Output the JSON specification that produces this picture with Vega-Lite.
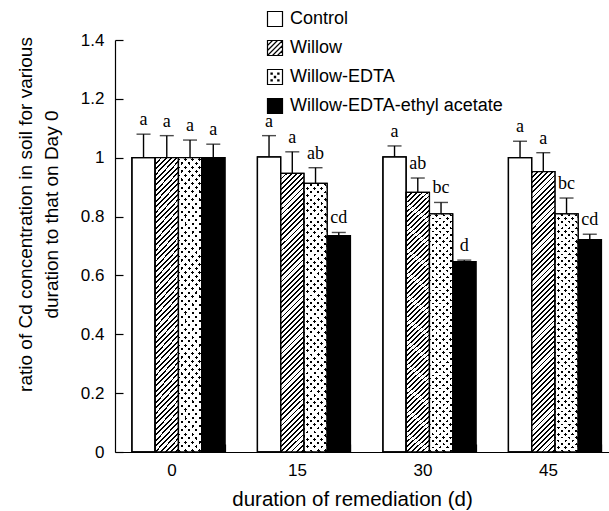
{
"$schema": "https://vega.github.io/schema/vega-lite/v6.json",
"autosize": "none",
"width": 494,
"height": 412,
"padding": {"left": 115, "top": 40, "right": 0, "bottom": 59},
"background": "white",
"config": {"view": {"stroke": null}, "font": "Liberation Sans"},
"data": {"values": [
{"day": "0", "treatment": "Control", "value": 1.0, "upper": 1.08, "letter": "a"},
{"day": "0", "treatment": "Willow", "value": 1.0, "upper": 1.075, "letter": "a"},
{"day": "0", "treatment": "Willow-EDTA", "value": 1.0, "upper": 1.06, "letter": "a"},
{"day": "0", "treatment": "Willow-EDTA-ethyl acetate", "value": 1.0, "upper": 1.046, "letter": "a"},
{"day": "15", "treatment": "Control", "value": 1.003, "upper": 1.075, "letter": "a"},
{"day": "15", "treatment": "Willow", "value": 0.947, "upper": 1.02, "letter": "a"},
{"day": "15", "treatment": "Willow-EDTA", "value": 0.913, "upper": 0.966, "letter": "ab"},
{"day": "15", "treatment": "Willow-EDTA-ethyl acetate", "value": 0.735, "upper": 0.746, "letter": "cd"},
{"day": "30", "treatment": "Control", "value": 1.003, "upper": 1.04, "letter": "a"},
{"day": "30", "treatment": "Willow", "value": 0.882, "upper": 0.931, "letter": "ab"},
{"day": "30", "treatment": "Willow-EDTA", "value": 0.809, "upper": 0.848, "letter": "bc"},
{"day": "30", "treatment": "Willow-EDTA-ethyl acetate", "value": 0.647, "upper": 0.652, "letter": "d"},
{"day": "45", "treatment": "Control", "value": 1.0, "upper": 1.056, "letter": "a"},
{"day": "45", "treatment": "Willow", "value": 0.953, "upper": 1.017, "letter": "a"},
{"day": "45", "treatment": "Willow-EDTA", "value": 0.809, "upper": 0.863, "letter": "bc"},
{"day": "45", "treatment": "Willow-EDTA-ethyl acetate", "value": 0.722, "upper": 0.74, "letter": "cd"}
]},
"encoding": {
"x": {"field": "day", "type": "nominal",
 "scale": {"domain": ["0", "15", "30", "45"], "paddingInner": 0.259, "paddingOuter": 0.0976, "align": 0.69},
 "axis": {"title": "duration of remediation (d)", "labelAngle": 0, "tickBand": "extent", "tickSize": -8, "labelPadding": 18, "labelOffset": -7, "labelFontSize": 17, "labelColor": "black", "domainColor": "black", "domainWidth": 1.2, "tickColor": "black", "tickWidth": 1.2, "titleFontSize": 20.5, "titleFontWeight": "normal", "titleColor": "black", "titleX": 237, "titleY": 53, "titleBaseline": "alphabetic"}},
"xOffset": {"field": "treatment", "type": "nominal",
 "scale": {"domain": ["Control", "Willow", "Willow-EDTA", "Willow-EDTA-ethyl acetate"], "paddingInner": 0, "paddingOuter": 0}},
"y": {"field": "value", "type": "quantitative",
 "scale": {"domain": [0, 1.4], "nice": false},
 "axis": {"values": [0, 0.2, 0.4, 0.6, 0.8, 1, 1.2, 1.4], "format": "~g", "grid": false, "tickSize": -8, "labelPadding": 19, "labelFontSize": 17, "labelColor": "black", "domainColor": "black", "domainWidth": 1.2, "tickColor": "black", "tickWidth": 1.2,
  "title": ["ratio of Cd concentration in soil for various", "duration to that on Day 0"], "titleFontSize": 19, "titleFontWeight": "normal", "titleColor": "black", "titleX": -80, "titleY": 174, "titleBaseline": "bottom", "titleLineHeight": 26}}
},
"layer": [
{"mark": {"type": "bar", "stroke": "black", "strokeWidth": 1.3},
 "encoding": {"fill": {"field": "treatment", "type": "nominal",
  "scale": {"domain": ["Control", "Willow", "Willow-EDTA", "Willow-EDTA-ethyl acetate"], "range": ["white", "white", "white", "black"]},
  "legend": {"orient": "none", "legendX": 151, "legendY": -30, "direction": "vertical", "title": null, "padding": 0, "symbolSize": 225, "symbolStrokeColor": "black", "symbolStrokeWidth": 1.2, "symbolOpacity": 1, "labelFontSize": 18, "labelFont": "Liberation Sans", "labelColor": "black", "labelOffset": 6, "rowPadding": 9, "labelLimit": 400,
   "encode": {"symbols": {"update": {"stroke": {"value": "black"}, "strokeWidth": {"value": 1.2}}}}}}}
},
{"transform": [{"filter": "false"}],
 "mark": {"type": "point", "filled": true, "stroke": "black", "strokeWidth": 1.2, "opacity": 1},
 "encoding": {
  "fill": {"field": "treatment", "type": "nominal",
   "legend": {"orient": "none", "legendX": 151, "legendY": -30, "direction": "vertical", "title": null, "padding": 0, "symbolSize": 225, "symbolStrokeColor": "black", "symbolStrokeWidth": 1.2, "symbolOpacity": 1, "labelFontSize": 18, "labelFont": "Liberation Sans", "labelColor": "black", "labelOffset": 6, "rowPadding": 9, "labelLimit": 400,
    "encode": {"symbols": {"update": {"stroke": {"value": "black"}, "strokeWidth": {"value": 1.2}}}}}},
  "shape": {"field": "treatment", "type": "nominal",
   "scale": {"domain": ["Control", "Willow", "Willow-EDTA", "Willow-EDTA-ethyl acetate"], "range": [
    "M-1,-1H1V1H-1Z",
    "M-1,-1H1V1H-1Z M-1,-0.33L-0.33,-1 M-1,0.33L0.33,-1 M-1,1L1,-1 M-0.33,1L1,-0.33 M0.33,1L1,0.33",
    "M-1,-1H1V1H-1Z M-0.53,-0.53h0.16v0.16h-0.16Z M0.37,-0.53h0.16v0.16h-0.16Z M-0.08,-0.08h0.16v0.16h-0.16Z M-0.53,0.37h0.16v0.16h-0.16Z M0.37,0.37h0.16v0.16h-0.16Z",
    "M-1,-1H1V1H-1Z"]},
   "legend": {"orient": "none", "legendX": 151, "legendY": -30, "direction": "vertical", "title": null, "padding": 0, "symbolSize": 225, "symbolStrokeColor": "black", "symbolStrokeWidth": 1.2, "symbolOpacity": 1, "labelFontSize": 18, "labelFont": "Liberation Sans", "labelColor": "black", "labelOffset": 6, "rowPadding": 9, "labelLimit": 400,
    "encode": {"symbols": {"update": {"stroke": {"value": "black"}, "strokeWidth": {"value": 1.2}}}}}}}
},
{"transform": [{"filter": "datum.treatment === 'Willow'"}],
 "mark": {"type": "bar", "fill": {"gradient": "linear", "x1": 0, "y1": 0, "x2": 0.0913, "y2": 1.1, "stops": [
{"offset":0,"color":"#000"},{"offset":0.006,"color":"#000"},{"offset":0.006,"color":"#fff"},
{"offset":0.0167,"color":"#fff"},{"offset":0.0167,"color":"#000"},{"offset":0.0227,"color":"#000"},{"offset":0.0227,"color":"#fff"},
{"offset":0.0333,"color":"#fff"},{"offset":0.0333,"color":"#000"},{"offset":0.0393,"color":"#000"},{"offset":0.0393,"color":"#fff"},
{"offset":0.05,"color":"#fff"},{"offset":0.05,"color":"#000"},{"offset":0.056,"color":"#000"},{"offset":0.056,"color":"#fff"},
{"offset":0.0667,"color":"#fff"},{"offset":0.0667,"color":"#000"},{"offset":0.0727,"color":"#000"},{"offset":0.0727,"color":"#fff"},
{"offset":0.0833,"color":"#fff"},{"offset":0.0833,"color":"#000"},{"offset":0.0893,"color":"#000"},{"offset":0.0893,"color":"#fff"},
{"offset":0.1,"color":"#fff"},{"offset":0.1,"color":"#000"},{"offset":0.106,"color":"#000"},{"offset":0.106,"color":"#fff"},
{"offset":0.1167,"color":"#fff"},{"offset":0.1167,"color":"#000"},{"offset":0.1227,"color":"#000"},{"offset":0.1227,"color":"#fff"},
{"offset":0.1333,"color":"#fff"},{"offset":0.1333,"color":"#000"},{"offset":0.1393,"color":"#000"},{"offset":0.1393,"color":"#fff"},
{"offset":0.15,"color":"#fff"},{"offset":0.15,"color":"#000"},{"offset":0.156,"color":"#000"},{"offset":0.156,"color":"#fff"},
{"offset":0.1667,"color":"#fff"},{"offset":0.1667,"color":"#000"},{"offset":0.1727,"color":"#000"},{"offset":0.1727,"color":"#fff"},
{"offset":0.1833,"color":"#fff"},{"offset":0.1833,"color":"#000"},{"offset":0.1893,"color":"#000"},{"offset":0.1893,"color":"#fff"},
{"offset":0.2,"color":"#fff"},{"offset":0.2,"color":"#000"},{"offset":0.206,"color":"#000"},{"offset":0.206,"color":"#fff"},
{"offset":0.2167,"color":"#fff"},{"offset":0.2167,"color":"#000"},{"offset":0.2227,"color":"#000"},{"offset":0.2227,"color":"#fff"},
{"offset":0.2333,"color":"#fff"},{"offset":0.2333,"color":"#000"},{"offset":0.2393,"color":"#000"},{"offset":0.2393,"color":"#fff"},
{"offset":0.25,"color":"#fff"},{"offset":0.25,"color":"#000"},{"offset":0.256,"color":"#000"},{"offset":0.256,"color":"#fff"},
{"offset":0.2667,"color":"#fff"},{"offset":0.2667,"color":"#000"},{"offset":0.2727,"color":"#000"},{"offset":0.2727,"color":"#fff"},
{"offset":0.2833,"color":"#fff"},{"offset":0.2833,"color":"#000"},{"offset":0.2893,"color":"#000"},{"offset":0.2893,"color":"#fff"},
{"offset":0.3,"color":"#fff"},{"offset":0.3,"color":"#000"},{"offset":0.306,"color":"#000"},{"offset":0.306,"color":"#fff"},
{"offset":0.3167,"color":"#fff"},{"offset":0.3167,"color":"#000"},{"offset":0.3227,"color":"#000"},{"offset":0.3227,"color":"#fff"},
{"offset":0.3333,"color":"#fff"},{"offset":0.3333,"color":"#000"},{"offset":0.3393,"color":"#000"},{"offset":0.3393,"color":"#fff"},
{"offset":0.35,"color":"#fff"},{"offset":0.35,"color":"#000"},{"offset":0.356,"color":"#000"},{"offset":0.356,"color":"#fff"},
{"offset":0.3667,"color":"#fff"},{"offset":0.3667,"color":"#000"},{"offset":0.3727,"color":"#000"},{"offset":0.3727,"color":"#fff"},
{"offset":0.3833,"color":"#fff"},{"offset":0.3833,"color":"#000"},{"offset":0.3893,"color":"#000"},{"offset":0.3893,"color":"#fff"},
{"offset":0.4,"color":"#fff"},{"offset":0.4,"color":"#000"},{"offset":0.406,"color":"#000"},{"offset":0.406,"color":"#fff"},
{"offset":0.4167,"color":"#fff"},{"offset":0.4167,"color":"#000"},{"offset":0.4227,"color":"#000"},{"offset":0.4227,"color":"#fff"},
{"offset":0.4333,"color":"#fff"},{"offset":0.4333,"color":"#000"},{"offset":0.4393,"color":"#000"},{"offset":0.4393,"color":"#fff"},
{"offset":0.45,"color":"#fff"},{"offset":0.45,"color":"#000"},{"offset":0.456,"color":"#000"},{"offset":0.456,"color":"#fff"},
{"offset":0.4667,"color":"#fff"},{"offset":0.4667,"color":"#000"},{"offset":0.4727,"color":"#000"},{"offset":0.4727,"color":"#fff"},
{"offset":0.4833,"color":"#fff"},{"offset":0.4833,"color":"#000"},{"offset":0.4893,"color":"#000"},{"offset":0.4893,"color":"#fff"},
{"offset":0.5,"color":"#fff"},{"offset":0.5,"color":"#000"},{"offset":0.506,"color":"#000"},{"offset":0.506,"color":"#fff"},
{"offset":0.5167,"color":"#fff"},{"offset":0.5167,"color":"#000"},{"offset":0.5227,"color":"#000"},{"offset":0.5227,"color":"#fff"},
{"offset":0.5333,"color":"#fff"},{"offset":0.5333,"color":"#000"},{"offset":0.5393,"color":"#000"},{"offset":0.5393,"color":"#fff"},
{"offset":0.55,"color":"#fff"},{"offset":0.55,"color":"#000"},{"offset":0.556,"color":"#000"},{"offset":0.556,"color":"#fff"},
{"offset":0.5667,"color":"#fff"},{"offset":0.5667,"color":"#000"},{"offset":0.5727,"color":"#000"},{"offset":0.5727,"color":"#fff"},
{"offset":0.5833,"color":"#fff"},{"offset":0.5833,"color":"#000"},{"offset":0.5893,"color":"#000"},{"offset":0.5893,"color":"#fff"},
{"offset":0.6,"color":"#fff"},{"offset":0.6,"color":"#000"},{"offset":0.606,"color":"#000"},{"offset":0.606,"color":"#fff"},
{"offset":0.6167,"color":"#fff"},{"offset":0.6167,"color":"#000"},{"offset":0.6227,"color":"#000"},{"offset":0.6227,"color":"#fff"},
{"offset":0.6333,"color":"#fff"},{"offset":0.6333,"color":"#000"},{"offset":0.6393,"color":"#000"},{"offset":0.6393,"color":"#fff"},
{"offset":0.65,"color":"#fff"},{"offset":0.65,"color":"#000"},{"offset":0.656,"color":"#000"},{"offset":0.656,"color":"#fff"},
{"offset":0.6667,"color":"#fff"},{"offset":0.6667,"color":"#000"},{"offset":0.6727,"color":"#000"},{"offset":0.6727,"color":"#fff"},
{"offset":0.6833,"color":"#fff"},{"offset":0.6833,"color":"#000"},{"offset":0.6893,"color":"#000"},{"offset":0.6893,"color":"#fff"},
{"offset":0.7,"color":"#fff"},{"offset":0.7,"color":"#000"},{"offset":0.706,"color":"#000"},{"offset":0.706,"color":"#fff"},
{"offset":0.7167,"color":"#fff"},{"offset":0.7167,"color":"#000"},{"offset":0.7227,"color":"#000"},{"offset":0.7227,"color":"#fff"},
{"offset":0.7333,"color":"#fff"},{"offset":0.7333,"color":"#000"},{"offset":0.7393,"color":"#000"},{"offset":0.7393,"color":"#fff"},
{"offset":0.75,"color":"#fff"},{"offset":0.75,"color":"#000"},{"offset":0.756,"color":"#000"},{"offset":0.756,"color":"#fff"},
{"offset":0.7667,"color":"#fff"},{"offset":0.7667,"color":"#000"},{"offset":0.7727,"color":"#000"},{"offset":0.7727,"color":"#fff"},
{"offset":0.7833,"color":"#fff"},{"offset":0.7833,"color":"#000"},{"offset":0.7893,"color":"#000"},{"offset":0.7893,"color":"#fff"},
{"offset":0.8,"color":"#fff"},{"offset":0.8,"color":"#000"},{"offset":0.806,"color":"#000"},{"offset":0.806,"color":"#fff"},
{"offset":0.8167,"color":"#fff"},{"offset":0.8167,"color":"#000"},{"offset":0.8227,"color":"#000"},{"offset":0.8227,"color":"#fff"},
{"offset":0.8333,"color":"#fff"},{"offset":0.8333,"color":"#000"},{"offset":0.8393,"color":"#000"},{"offset":0.8393,"color":"#fff"},
{"offset":0.85,"color":"#fff"},{"offset":0.85,"color":"#000"},{"offset":0.856,"color":"#000"},{"offset":0.856,"color":"#fff"},
{"offset":0.8667,"color":"#fff"},{"offset":0.8667,"color":"#000"},{"offset":0.8727,"color":"#000"},{"offset":0.8727,"color":"#fff"},
{"offset":0.8833,"color":"#fff"},{"offset":0.8833,"color":"#000"},{"offset":0.8893,"color":"#000"},{"offset":0.8893,"color":"#fff"},
{"offset":0.9,"color":"#fff"},{"offset":0.9,"color":"#000"},{"offset":0.906,"color":"#000"},{"offset":0.906,"color":"#fff"},
{"offset":0.9167,"color":"#fff"},{"offset":0.9167,"color":"#000"},{"offset":0.9227,"color":"#000"},{"offset":0.9227,"color":"#fff"},
{"offset":0.9333,"color":"#fff"},{"offset":0.9333,"color":"#000"},{"offset":0.9393,"color":"#000"},{"offset":0.9393,"color":"#fff"},
{"offset":0.95,"color":"#fff"},{"offset":0.95,"color":"#000"},{"offset":0.956,"color":"#000"},{"offset":0.956,"color":"#fff"},
{"offset":0.9667,"color":"#fff"},{"offset":0.9667,"color":"#000"},{"offset":0.9727,"color":"#000"},{"offset":0.9727,"color":"#fff"},
{"offset":0.9833,"color":"#fff"},{"offset":0.9833,"color":"#000"},{"offset":0.9893,"color":"#000"},{"offset":0.9893,"color":"#fff"},
{"offset":1,"color":"#fff"}]}}
},
{"transform": [{"filter": "datum.treatment === 'Willow-EDTA'"}],
 "mark": {"type": "bar", "fill": {"gradient": "linear", "x1": 0, "y1": 0, "x2": 0.0975, "y2": 1.09, "stops": [
{"offset":0,"color":"#000"},{"offset":0.01,"color":"#000"},{"offset":0.01,"color":"rgba(0,0,0,0)"},
{"offset":0.025,"color":"rgba(0,0,0,0)"},{"offset":0.025,"color":"#000"},{"offset":0.035,"color":"#000"},{"offset":0.035,"color":"rgba(0,0,0,0)"},
{"offset":0.05,"color":"rgba(0,0,0,0)"},{"offset":0.05,"color":"#000"},{"offset":0.06,"color":"#000"},{"offset":0.06,"color":"rgba(0,0,0,0)"},
{"offset":0.075,"color":"rgba(0,0,0,0)"},{"offset":0.075,"color":"#000"},{"offset":0.085,"color":"#000"},{"offset":0.085,"color":"rgba(0,0,0,0)"},
{"offset":0.1,"color":"rgba(0,0,0,0)"},{"offset":0.1,"color":"#000"},{"offset":0.11,"color":"#000"},{"offset":0.11,"color":"rgba(0,0,0,0)"},
{"offset":0.125,"color":"rgba(0,0,0,0)"},{"offset":0.125,"color":"#000"},{"offset":0.135,"color":"#000"},{"offset":0.135,"color":"rgba(0,0,0,0)"},
{"offset":0.15,"color":"rgba(0,0,0,0)"},{"offset":0.15,"color":"#000"},{"offset":0.16,"color":"#000"},{"offset":0.16,"color":"rgba(0,0,0,0)"},
{"offset":0.175,"color":"rgba(0,0,0,0)"},{"offset":0.175,"color":"#000"},{"offset":0.185,"color":"#000"},{"offset":0.185,"color":"rgba(0,0,0,0)"},
{"offset":0.2,"color":"rgba(0,0,0,0)"},{"offset":0.2,"color":"#000"},{"offset":0.21,"color":"#000"},{"offset":0.21,"color":"rgba(0,0,0,0)"},
{"offset":0.225,"color":"rgba(0,0,0,0)"},{"offset":0.225,"color":"#000"},{"offset":0.235,"color":"#000"},{"offset":0.235,"color":"rgba(0,0,0,0)"},
{"offset":0.25,"color":"rgba(0,0,0,0)"},{"offset":0.25,"color":"#000"},{"offset":0.26,"color":"#000"},{"offset":0.26,"color":"rgba(0,0,0,0)"},
{"offset":0.275,"color":"rgba(0,0,0,0)"},{"offset":0.275,"color":"#000"},{"offset":0.285,"color":"#000"},{"offset":0.285,"color":"rgba(0,0,0,0)"},
{"offset":0.3,"color":"rgba(0,0,0,0)"},{"offset":0.3,"color":"#000"},{"offset":0.31,"color":"#000"},{"offset":0.31,"color":"rgba(0,0,0,0)"},
{"offset":0.325,"color":"rgba(0,0,0,0)"},{"offset":0.325,"color":"#000"},{"offset":0.335,"color":"#000"},{"offset":0.335,"color":"rgba(0,0,0,0)"},
{"offset":0.35,"color":"rgba(0,0,0,0)"},{"offset":0.35,"color":"#000"},{"offset":0.36,"color":"#000"},{"offset":0.36,"color":"rgba(0,0,0,0)"},
{"offset":0.375,"color":"rgba(0,0,0,0)"},{"offset":0.375,"color":"#000"},{"offset":0.385,"color":"#000"},{"offset":0.385,"color":"rgba(0,0,0,0)"},
{"offset":0.4,"color":"rgba(0,0,0,0)"},{"offset":0.4,"color":"#000"},{"offset":0.41,"color":"#000"},{"offset":0.41,"color":"rgba(0,0,0,0)"},
{"offset":0.425,"color":"rgba(0,0,0,0)"},{"offset":0.425,"color":"#000"},{"offset":0.435,"color":"#000"},{"offset":0.435,"color":"rgba(0,0,0,0)"},
{"offset":0.45,"color":"rgba(0,0,0,0)"},{"offset":0.45,"color":"#000"},{"offset":0.46,"color":"#000"},{"offset":0.46,"color":"rgba(0,0,0,0)"},
{"offset":0.475,"color":"rgba(0,0,0,0)"},{"offset":0.475,"color":"#000"},{"offset":0.485,"color":"#000"},{"offset":0.485,"color":"rgba(0,0,0,0)"},
{"offset":0.5,"color":"rgba(0,0,0,0)"},{"offset":0.5,"color":"#000"},{"offset":0.51,"color":"#000"},{"offset":0.51,"color":"rgba(0,0,0,0)"},
{"offset":0.525,"color":"rgba(0,0,0,0)"},{"offset":0.525,"color":"#000"},{"offset":0.535,"color":"#000"},{"offset":0.535,"color":"rgba(0,0,0,0)"},
{"offset":0.55,"color":"rgba(0,0,0,0)"},{"offset":0.55,"color":"#000"},{"offset":0.56,"color":"#000"},{"offset":0.56,"color":"rgba(0,0,0,0)"},
{"offset":0.575,"color":"rgba(0,0,0,0)"},{"offset":0.575,"color":"#000"},{"offset":0.585,"color":"#000"},{"offset":0.585,"color":"rgba(0,0,0,0)"},
{"offset":0.6,"color":"rgba(0,0,0,0)"},{"offset":0.6,"color":"#000"},{"offset":0.61,"color":"#000"},{"offset":0.61,"color":"rgba(0,0,0,0)"},
{"offset":0.625,"color":"rgba(0,0,0,0)"},{"offset":0.625,"color":"#000"},{"offset":0.635,"color":"#000"},{"offset":0.635,"color":"rgba(0,0,0,0)"},
{"offset":0.65,"color":"rgba(0,0,0,0)"},{"offset":0.65,"color":"#000"},{"offset":0.66,"color":"#000"},{"offset":0.66,"color":"rgba(0,0,0,0)"},
{"offset":0.675,"color":"rgba(0,0,0,0)"},{"offset":0.675,"color":"#000"},{"offset":0.685,"color":"#000"},{"offset":0.685,"color":"rgba(0,0,0,0)"},
{"offset":0.7,"color":"rgba(0,0,0,0)"},{"offset":0.7,"color":"#000"},{"offset":0.71,"color":"#000"},{"offset":0.71,"color":"rgba(0,0,0,0)"},
{"offset":0.725,"color":"rgba(0,0,0,0)"},{"offset":0.725,"color":"#000"},{"offset":0.735,"color":"#000"},{"offset":0.735,"color":"rgba(0,0,0,0)"},
{"offset":0.75,"color":"rgba(0,0,0,0)"},{"offset":0.75,"color":"#000"},{"offset":0.76,"color":"#000"},{"offset":0.76,"color":"rgba(0,0,0,0)"},
{"offset":0.775,"color":"rgba(0,0,0,0)"},{"offset":0.775,"color":"#000"},{"offset":0.785,"color":"#000"},{"offset":0.785,"color":"rgba(0,0,0,0)"},
{"offset":0.8,"color":"rgba(0,0,0,0)"},{"offset":0.8,"color":"#000"},{"offset":0.81,"color":"#000"},{"offset":0.81,"color":"rgba(0,0,0,0)"},
{"offset":0.825,"color":"rgba(0,0,0,0)"},{"offset":0.825,"color":"#000"},{"offset":0.835,"color":"#000"},{"offset":0.835,"color":"rgba(0,0,0,0)"},
{"offset":0.85,"color":"rgba(0,0,0,0)"},{"offset":0.85,"color":"#000"},{"offset":0.86,"color":"#000"},{"offset":0.86,"color":"rgba(0,0,0,0)"},
{"offset":0.875,"color":"rgba(0,0,0,0)"},{"offset":0.875,"color":"#000"},{"offset":0.885,"color":"#000"},{"offset":0.885,"color":"rgba(0,0,0,0)"},
{"offset":0.9,"color":"rgba(0,0,0,0)"},{"offset":0.9,"color":"#000"},{"offset":0.91,"color":"#000"},{"offset":0.91,"color":"rgba(0,0,0,0)"},
{"offset":0.925,"color":"rgba(0,0,0,0)"},{"offset":0.925,"color":"#000"},{"offset":0.935,"color":"#000"},{"offset":0.935,"color":"rgba(0,0,0,0)"},
{"offset":0.95,"color":"rgba(0,0,0,0)"},{"offset":0.95,"color":"#000"},{"offset":0.96,"color":"#000"},{"offset":0.96,"color":"rgba(0,0,0,0)"},
{"offset":0.975,"color":"rgba(0,0,0,0)"},{"offset":0.975,"color":"#000"},{"offset":0.985,"color":"#000"},{"offset":0.985,"color":"rgba(0,0,0,0)"},
{"offset":1,"color":"rgba(0,0,0,0)"}]}}
},
{"transform": [{"filter": "datum.treatment === 'Willow-EDTA'"}],
 "mark": {"type": "bar", "fill": {"gradient": "linear", "x1": 0, "y1": 1, "x2": 0.0975, "y2": -0.09, "stops": [
{"offset":0,"color":"rgba(255,255,255,0)"},{"offset":0.01,"color":"rgba(255,255,255,0)"},{"offset":0.01,"color":"#fff"},
{"offset":0.025,"color":"#fff"},{"offset":0.025,"color":"rgba(255,255,255,0)"},{"offset":0.035,"color":"rgba(255,255,255,0)"},{"offset":0.035,"color":"#fff"},
{"offset":0.05,"color":"#fff"},{"offset":0.05,"color":"rgba(255,255,255,0)"},{"offset":0.06,"color":"rgba(255,255,255,0)"},{"offset":0.06,"color":"#fff"},
{"offset":0.075,"color":"#fff"},{"offset":0.075,"color":"rgba(255,255,255,0)"},{"offset":0.085,"color":"rgba(255,255,255,0)"},{"offset":0.085,"color":"#fff"},
{"offset":0.1,"color":"#fff"},{"offset":0.1,"color":"rgba(255,255,255,0)"},{"offset":0.11,"color":"rgba(255,255,255,0)"},{"offset":0.11,"color":"#fff"},
{"offset":0.125,"color":"#fff"},{"offset":0.125,"color":"rgba(255,255,255,0)"},{"offset":0.135,"color":"rgba(255,255,255,0)"},{"offset":0.135,"color":"#fff"},
{"offset":0.15,"color":"#fff"},{"offset":0.15,"color":"rgba(255,255,255,0)"},{"offset":0.16,"color":"rgba(255,255,255,0)"},{"offset":0.16,"color":"#fff"},
{"offset":0.175,"color":"#fff"},{"offset":0.175,"color":"rgba(255,255,255,0)"},{"offset":0.185,"color":"rgba(255,255,255,0)"},{"offset":0.185,"color":"#fff"},
{"offset":0.2,"color":"#fff"},{"offset":0.2,"color":"rgba(255,255,255,0)"},{"offset":0.21,"color":"rgba(255,255,255,0)"},{"offset":0.21,"color":"#fff"},
{"offset":0.225,"color":"#fff"},{"offset":0.225,"color":"rgba(255,255,255,0)"},{"offset":0.235,"color":"rgba(255,255,255,0)"},{"offset":0.235,"color":"#fff"},
{"offset":0.25,"color":"#fff"},{"offset":0.25,"color":"rgba(255,255,255,0)"},{"offset":0.26,"color":"rgba(255,255,255,0)"},{"offset":0.26,"color":"#fff"},
{"offset":0.275,"color":"#fff"},{"offset":0.275,"color":"rgba(255,255,255,0)"},{"offset":0.285,"color":"rgba(255,255,255,0)"},{"offset":0.285,"color":"#fff"},
{"offset":0.3,"color":"#fff"},{"offset":0.3,"color":"rgba(255,255,255,0)"},{"offset":0.31,"color":"rgba(255,255,255,0)"},{"offset":0.31,"color":"#fff"},
{"offset":0.325,"color":"#fff"},{"offset":0.325,"color":"rgba(255,255,255,0)"},{"offset":0.335,"color":"rgba(255,255,255,0)"},{"offset":0.335,"color":"#fff"},
{"offset":0.35,"color":"#fff"},{"offset":0.35,"color":"rgba(255,255,255,0)"},{"offset":0.36,"color":"rgba(255,255,255,0)"},{"offset":0.36,"color":"#fff"},
{"offset":0.375,"color":"#fff"},{"offset":0.375,"color":"rgba(255,255,255,0)"},{"offset":0.385,"color":"rgba(255,255,255,0)"},{"offset":0.385,"color":"#fff"},
{"offset":0.4,"color":"#fff"},{"offset":0.4,"color":"rgba(255,255,255,0)"},{"offset":0.41,"color":"rgba(255,255,255,0)"},{"offset":0.41,"color":"#fff"},
{"offset":0.425,"color":"#fff"},{"offset":0.425,"color":"rgba(255,255,255,0)"},{"offset":0.435,"color":"rgba(255,255,255,0)"},{"offset":0.435,"color":"#fff"},
{"offset":0.45,"color":"#fff"},{"offset":0.45,"color":"rgba(255,255,255,0)"},{"offset":0.46,"color":"rgba(255,255,255,0)"},{"offset":0.46,"color":"#fff"},
{"offset":0.475,"color":"#fff"},{"offset":0.475,"color":"rgba(255,255,255,0)"},{"offset":0.485,"color":"rgba(255,255,255,0)"},{"offset":0.485,"color":"#fff"},
{"offset":0.5,"color":"#fff"},{"offset":0.5,"color":"rgba(255,255,255,0)"},{"offset":0.51,"color":"rgba(255,255,255,0)"},{"offset":0.51,"color":"#fff"},
{"offset":0.525,"color":"#fff"},{"offset":0.525,"color":"rgba(255,255,255,0)"},{"offset":0.535,"color":"rgba(255,255,255,0)"},{"offset":0.535,"color":"#fff"},
{"offset":0.55,"color":"#fff"},{"offset":0.55,"color":"rgba(255,255,255,0)"},{"offset":0.56,"color":"rgba(255,255,255,0)"},{"offset":0.56,"color":"#fff"},
{"offset":0.575,"color":"#fff"},{"offset":0.575,"color":"rgba(255,255,255,0)"},{"offset":0.585,"color":"rgba(255,255,255,0)"},{"offset":0.585,"color":"#fff"},
{"offset":0.6,"color":"#fff"},{"offset":0.6,"color":"rgba(255,255,255,0)"},{"offset":0.61,"color":"rgba(255,255,255,0)"},{"offset":0.61,"color":"#fff"},
{"offset":0.625,"color":"#fff"},{"offset":0.625,"color":"rgba(255,255,255,0)"},{"offset":0.635,"color":"rgba(255,255,255,0)"},{"offset":0.635,"color":"#fff"},
{"offset":0.65,"color":"#fff"},{"offset":0.65,"color":"rgba(255,255,255,0)"},{"offset":0.66,"color":"rgba(255,255,255,0)"},{"offset":0.66,"color":"#fff"},
{"offset":0.675,"color":"#fff"},{"offset":0.675,"color":"rgba(255,255,255,0)"},{"offset":0.685,"color":"rgba(255,255,255,0)"},{"offset":0.685,"color":"#fff"},
{"offset":0.7,"color":"#fff"},{"offset":0.7,"color":"rgba(255,255,255,0)"},{"offset":0.71,"color":"rgba(255,255,255,0)"},{"offset":0.71,"color":"#fff"},
{"offset":0.725,"color":"#fff"},{"offset":0.725,"color":"rgba(255,255,255,0)"},{"offset":0.735,"color":"rgba(255,255,255,0)"},{"offset":0.735,"color":"#fff"},
{"offset":0.75,"color":"#fff"},{"offset":0.75,"color":"rgba(255,255,255,0)"},{"offset":0.76,"color":"rgba(255,255,255,0)"},{"offset":0.76,"color":"#fff"},
{"offset":0.775,"color":"#fff"},{"offset":0.775,"color":"rgba(255,255,255,0)"},{"offset":0.785,"color":"rgba(255,255,255,0)"},{"offset":0.785,"color":"#fff"},
{"offset":0.8,"color":"#fff"},{"offset":0.8,"color":"rgba(255,255,255,0)"},{"offset":0.81,"color":"rgba(255,255,255,0)"},{"offset":0.81,"color":"#fff"},
{"offset":0.825,"color":"#fff"},{"offset":0.825,"color":"rgba(255,255,255,0)"},{"offset":0.835,"color":"rgba(255,255,255,0)"},{"offset":0.835,"color":"#fff"},
{"offset":0.85,"color":"#fff"},{"offset":0.85,"color":"rgba(255,255,255,0)"},{"offset":0.86,"color":"rgba(255,255,255,0)"},{"offset":0.86,"color":"#fff"},
{"offset":0.875,"color":"#fff"},{"offset":0.875,"color":"rgba(255,255,255,0)"},{"offset":0.885,"color":"rgba(255,255,255,0)"},{"offset":0.885,"color":"#fff"},
{"offset":0.9,"color":"#fff"},{"offset":0.9,"color":"rgba(255,255,255,0)"},{"offset":0.91,"color":"rgba(255,255,255,0)"},{"offset":0.91,"color":"#fff"},
{"offset":0.925,"color":"#fff"},{"offset":0.925,"color":"rgba(255,255,255,0)"},{"offset":0.935,"color":"rgba(255,255,255,0)"},{"offset":0.935,"color":"#fff"},
{"offset":0.95,"color":"#fff"},{"offset":0.95,"color":"rgba(255,255,255,0)"},{"offset":0.96,"color":"rgba(255,255,255,0)"},{"offset":0.96,"color":"#fff"},
{"offset":0.975,"color":"#fff"},{"offset":0.975,"color":"rgba(255,255,255,0)"},{"offset":0.985,"color":"rgba(255,255,255,0)"},{"offset":0.985,"color":"#fff"},
{"offset":1,"color":"#fff"}]}}
},
{"mark": {"type": "bar", "fill": "white", "fillOpacity": 0, "stroke": "black", "strokeWidth": 1.3}},
{"mark": {"type": "rule", "color": "black", "strokeWidth": 1.4},
 "encoding": {"y2": {"field": "upper"}}},
{"mark": {"type": "tick", "orient": "horizontal", "size": 14, "thickness": 1.4, "color": "black"},
 "encoding": {"y": {"field": "upper", "type": "quantitative"}}},
{"mark": {"type": "text", "font": "Liberation Serif", "fontSize": 18, "baseline": "alphabetic", "align": "center", "dy": -9, "color": "black"},
 "encoding": {"y": {"field": "upper", "type": "quantitative"}, "text": {"field": "letter"}}}
]
}
